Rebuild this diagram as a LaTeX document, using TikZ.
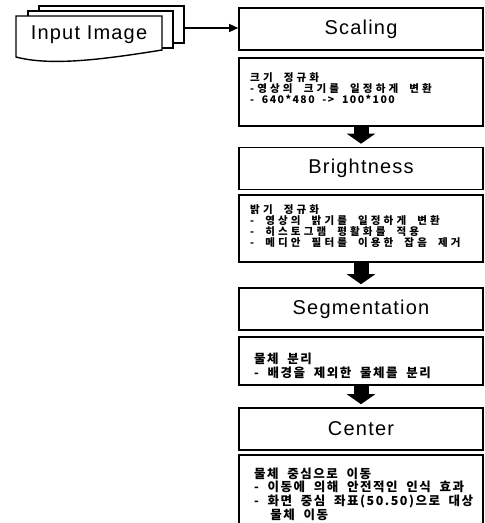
\documentclass[tikz,border=0pt]{standalone}
\usepackage{fontspec}
\setmainfont{Liberation Sans}[LetterSpace=6]
\newfontfamily\krs{Noto Sans CJK KR}[LetterSpace=30, WordSpace=2]
\newfontfamily\krsl{Noto Sans CJK KR}[LetterSpace=14, WordSpace=2]
\newfontfamily\krb{Noto Sans CJK KR}[LetterSpace=12, WordSpace=2]
\usetikzlibrary{arrows.meta}
\tikzset{
  x=1pt, y=-1pt,
  titlebox/.style={draw, line width=1.6pt, fill=white, minimum width=244pt, minimum height=42pt, inner sep=0pt, font=\fontsize{20}{24}\selectfont},
  descbox/.style={draw, line width=1.6pt, fill=white, minimum width=244pt, inner sep=0pt},
  smalltxt/.style={font=\krs\bfseries\fontsize{10.5}{11}\selectfont, align=left, anchor=base west, inner sep=0pt},
  bigtxt/.style={font=\krb\bfseries\fontsize{12.5}{13.6}\selectfont, align=left, anchor=base west, inner sep=0pt},
  bigarrow/.style={line width=15pt, -{Triangle[width=28pt,length=10pt]}, shorten >=3pt},
  docpage/.style={draw, line width=1.4pt, fill=white},
  thinarrow/.style={line width=1.4pt, -{Triangle[width=8pt,length=9pt]}}
}
\begin{document}
\begin{tikzpicture}
\clip (0,0) rectangle (485,523);
\fill[white] (0,0) rectangle (485,523);
% input image stack
\draw[docpage] (39,6) rectangle (184,43);
\draw[docpage] (28,11) rectangle (173,48);
\draw[docpage] (16,16) -- (162,16) -- (162,50) .. controls (100,60) and (50,66) .. (16,57) -- cycle;
\node[font=\fontsize{20}{24}\selectfont] (inp) at (89,35) {Input Image};
\coordinate (inpR) at (184,28);
% boxes
\node[titlebox] (t1) at (361,29) {Scaling};
\node[descbox, minimum height=68pt] (d1) at (361,92) {};
\node[smalltxt] (d1t) at (250,103) {크기 정규화\\-영상의 크기를 일정하게 변환\\{\krsl - 640*480 -> 100*100}};
\node[titlebox] (t2) at (361,168.5) {Brightness};
\node[descbox, minimum height=67pt] (d2) at (361,228.5) {};
\node[smalltxt] (d2t) at (250,246.5) {밝기 정규화\\- 영상의 밝기를 일정하게 변환\\- 히스토그램 평활화를 적용\\- 메디안 필터를 이용한 잡음 제거};
\node[titlebox] (t3) at (361,309) {Segmentation};
\node[descbox, minimum height=48pt] (d3) at (361,361) {};
\node[bigtxt] (d3t) at (254,377) {물체 분리\\- 배경을 제외한 물체를 분리};
\node[titlebox] (t4) at (361,429) {Center};
\node[descbox, minimum height=76pt] (d4) at (361,493) {};
\node[bigtxt] (d4t) at (254,519) {물체 중심으로 이동\\- 이동에 의해 안전적인 인식 효과\\- 화면 중심 좌표(50.50)으로 대상\\\hspace*{1.3em}물체 이동};
% connectors
\draw[thinarrow] (inpR) -- (t1.west |- inpR);
\draw[bigarrow] (d1.south) -- (t2.north);
\draw[bigarrow] (d2.south) -- (t3.north);
\draw[bigarrow] (d3.south) -- (t4.north);
\end{tikzpicture}
\end{document}
